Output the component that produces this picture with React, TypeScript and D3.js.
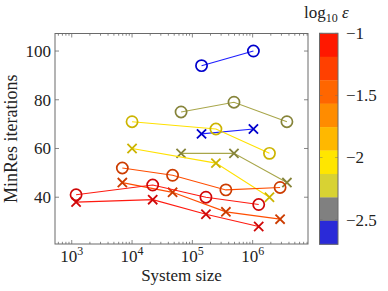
import React, { useEffect } from 'react';
import * as d3 from 'd3';

// system sizes per epsilon series
const redSizes = [1180, 22000, 168000, 1260000];
const orangeSizes = [6900, 47000, 360000, 2850000];
const yellowSizes = [10000, 246000, 1900000];
const oliveSizes = [65000, 490000, 3700000];
const blueSizes = [142000, 1030000];

// MinRes iterations, circles and crosses
const redCircles = [41, 45, 40, 37];
const redCrosses = [38, 39, 33, 28];
const orangeCircles = [52, 49, 43, 44];
const orangeCrosses = [46, 42, 34, 31];
const yellowCircles = [71, 68, 58];
const yellowCrosses = [60, 54, 40];
const oliveCircles = [75, 79, 71];
const oliveCrosses = [58, 58, 46];
const blueCircles = [94, 100];
const blueCrosses = [66, 68];

const xTicks = [1e3, 1e4, 1e5, 1e6];
const yTicks = [40, 60, 80, 100];
const barTicks = [-1, -1.5, -2, -2.5];
const barRange = [Math.log10(0.002), -1];
const barColors = ['#ff1800', '#ff4000', '#ff6600', '#ff8c00', '#ffb800', '#ffe600', '#d8d233', '#808080', '#2a2ad8'];

const lineColors = { red: '#ff1a10', orange: '#ff4d00', yellow: '#ffe100', olive: '#a8a64a', blue: '#1e1eff' };
const markColors = { red: '#d00808', orange: '#cc3c00', yellow: '#ccb400', olive: '#86843a', blue: '#0000cc' };

const series = [
  { key: 'blue', xs: blueSizes, ys: blueCircles, mark: 'o' },
  { key: 'blue', xs: blueSizes, ys: blueCrosses, mark: 'x' },
  { key: 'olive', xs: oliveSizes, ys: oliveCircles, mark: 'o' },
  { key: 'olive', xs: oliveSizes, ys: oliveCrosses, mark: 'x' },
  { key: 'yellow', xs: yellowSizes, ys: yellowCircles, mark: 'o' },
  { key: 'yellow', xs: yellowSizes, ys: yellowCrosses, mark: 'x' },
  { key: 'orange', xs: orangeSizes, ys: orangeCircles, mark: 'o' },
  { key: 'orange', xs: orangeSizes, ys: orangeCrosses, mark: 'x' },
  { key: 'red', xs: redSizes, ys: redCircles, mark: 'o' },
  { key: 'red', xs: redSizes, ys: redCrosses, mark: 'x' },
];

const font = "'Liberation Serif', 'DejaVu Serif', serif";

export default function App() {
  useEffect(() => {
    document.body.style.margin = '0';
  }, []);

  const left = 55, right = 308, top = 33.5, bottom = 244;

  // axis limits with 10% enlargement like pgfplots
  const allX = series.flatMap(s => s.xs).map(Math.log10);
  const allY = series.flatMap(s => s.ys);
  const [lx0, lx1] = d3.extent(allX) as [number, number];
  const [y0, y1] = d3.extent(allY) as [number, number];
  const ex = (lx1 - lx0) * 0.1, ey = (y1 - y0) * 0.1;

  const x = d3.scaleLog().domain([10 ** (lx0 - ex), 10 ** (lx1 + ex)]).range([left, right]);
  const y = d3.scaleLinear().domain([y0 - ey, y1 + ey]).range([bottom, top]);

  const minorTicks: number[] = [];
  for (let e = 2; e <= 6; e++) {
    for (let m = 2; m <= 9; m++) {
      const v = m * 10 ** e;
      if (v > x.domain()[0] && v < x.domain()[1]) minorTicks.push(v);
    }
  }

  const line = d3.line<[number, number]>().x(d => x(d[0])).y(d => y(d[1]));

  const barX0 = 319.5, barX1 = 338;
  const bar = d3.scaleLinear().domain(barRange).range([244.3, 33.3]);
  const bandH = (barRange[1] - barRange[0]) / barColors.length;

  const axisColor = '#6a6a6a';
  const txt = { fontFamily: font, fontSize: 17, fill: '#222' };

  return (
    <svg width={388} height={291} style={{ position: 'absolute', left: 0, top: 0 }}>
      <rect x={0} y={0} width={388} height={291} fill="#fff" />
      {/* ticks */}
      {minorTicks.map(v => (
        <g key={'mn' + v} stroke={axisColor} strokeWidth={0.8}>
          <line x1={x(v)} x2={x(v)} y1={bottom} y2={bottom - 2.2} />
          <line x1={x(v)} x2={x(v)} y1={top} y2={top + 2.2} />
        </g>
      ))}
      {xTicks.map(v => (
        <g key={'mx' + v} stroke={axisColor} strokeWidth={0.8}>
          <line x1={x(v)} x2={x(v)} y1={bottom} y2={bottom - 4} />
          <line x1={x(v)} x2={x(v)} y1={top} y2={top + 4} />
        </g>
      ))}
      {yTicks.map(v => (
        <g key={'my' + v} stroke={axisColor} strokeWidth={0.8}>
          <line x1={left} x2={left + 4} y1={y(v)} y2={y(v)} />
          <line x1={right} x2={right - 4} y1={y(v)} y2={y(v)} />
        </g>
      ))}
      {/* series */}
      {series.map((s, i) => {
        const pts = s.xs.map((v, j) => [v, s.ys[j]] as [number, number]);
        return (
          <g key={'s' + i}>
            <path d={line(pts) || ''} fill="none" stroke={lineColors[s.key]} strokeWidth={1.1} />
            {pts.map((p, j) =>
              s.mark === 'o' ? (
                <circle key={j} cx={x(p[0])} cy={y(p[1])} r={5.6} fill="none" stroke={markColors[s.key]} strokeWidth={1.7} />
              ) : (
                <path key={j} d={`M${x(p[0]) - 4.6},${y(p[1]) - 4.6}L${x(p[0]) + 4.6},${y(p[1]) + 4.6}M${x(p[0]) - 4.6},${y(p[1]) + 4.6}L${x(p[0]) + 4.6},${y(p[1]) - 4.6}`}
                  stroke={markColors[s.key]} strokeWidth={1.8} fill="none" />
              )
            )}
          </g>
        );
      })}
      <rect x={left} y={top} width={right - left} height={bottom - top} fill="none" stroke={axisColor} strokeWidth={1} />
      {/* tick labels */}
      {xTicks.map(v => (
        <text key={'lx' + v} x={x(v)} y={262} textAnchor="middle" style={txt}>
          10<tspan dy={-7} style={{ fontSize: 12 }}>{Math.round(Math.log10(v))}</tspan>
        </text>
      ))}
      {yTicks.map(v => (
        <text key={'ly' + v} x={51} y={y(v)} dy="0.35em" textAnchor="end" style={txt}>{v}</text>
      ))}
      <text x={(left + right) / 2} y={281} textAnchor="middle" style={txt}>System size</text>
      <text transform={`translate(17,${(top + bottom) / 2}) rotate(-90)`} textAnchor="middle" style={{ ...txt, fontSize: 18 }}>MinRes iterations</text>
      {/* colorbar */}
      {barColors.map((c, i) => {
        const hi = barRange[1] - i * bandH;
        const lo = hi - bandH;
        return <rect key={'b' + i} x={barX0} y={bar(hi)} width={barX1 - barX0} height={bar(lo) - bar(hi) + 0.3} fill={c} />;
      })}
      {barTicks.map(v => (
        <g key={'bt' + v} stroke={axisColor} strokeWidth={0.7} opacity={0.6}>
          <line x1={barX0} x2={barX0 + 3} y1={bar(v)} y2={bar(v)} />
          <line x1={barX1} x2={barX1 - 3} y1={bar(v)} y2={bar(v)} />
        </g>
      ))}
      <rect x={barX0} y={bar(barRange[1])} width={barX1 - barX0} height={bar(barRange[0]) - bar(barRange[1])} fill="none" stroke={axisColor} strokeWidth={1} />
      {barTicks.map(v => (
        <text key={'bl' + v} x={346} y={bar(v)} dy="0.35em" style={txt}>{'\u2212' + v.toString().replace('-', '')}</text>
      ))}
      <text x={304} y={18} style={txt}>
        log<tspan dy={4} style={{ fontSize: 12 }}>10</tspan><tspan dy={-4} style={{ fontStyle: 'italic' }}> ε</tspan>
      </text>
    </svg>
  );
}
